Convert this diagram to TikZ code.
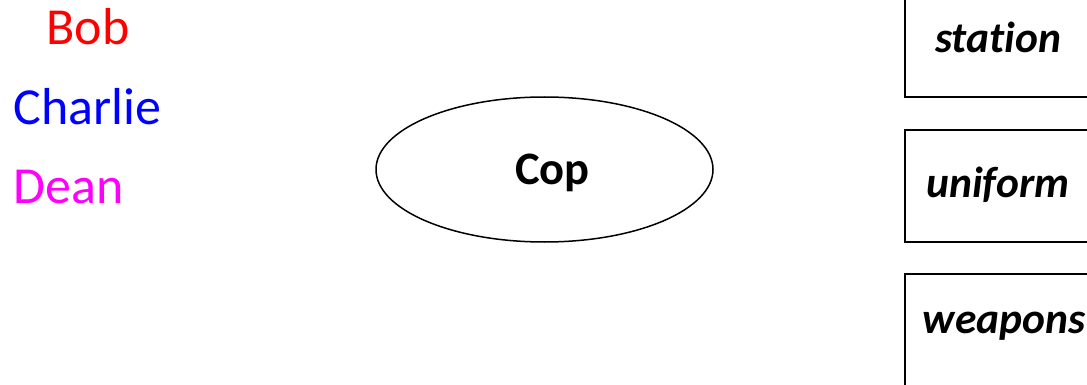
\documentclass[tikz,border=0pt]{standalone}
\usepackage{fontspec}
\setmainfont[Ligatures=NoCommon]{Carlito}
\usetikzlibrary{shapes.geometric}
\definecolor{pred}{RGB}{255,0,0}
\definecolor{pblue}{RGB}{0,0,255}
\definecolor{pmag}{RGB}{255,0,255}
\tikzset{
  person/.style={inner sep=0pt, anchor=base, font=\fontsize{52}{60}\selectfont},
  boxlabel/.style={inner sep=0pt, anchor=base, font=\fontsize{43.5}{50}\selectfont\bfseries\itshape},
  itembox/.style={draw, line width=2pt, rectangle, inner sep=0pt, minimum width=190pt, minimum height=112pt},
  classell/.style={draw, line width=1.5pt, ellipse, inner sep=0pt, minimum width=337pt, minimum height=145pt}
}
\begin{document}
\begin{tikzpicture}[x=1pt,y=-1pt]
\useasboundingbox (0,0) rectangle (1087,385);
\clip (0,0) rectangle (1087,385);
\node[person, text=pred] (bob) at (88,45) {Bob};
\node[person, text=pblue] (charlie) at (87.5,125) {Charlie};
\node[person, text=pmag] (dean) at (69,204) {Dean};
\node[classell] (cop) at (544.5,169.5) {};
\node[inner sep=0pt, anchor=base, font=\fontsize{46.5}{54}\selectfont\bfseries] (coplabel) at (552.5,185) {Cop};
\node[itembox] (b1) at (1000,41) {};
\node[itembox] (b2) at (1000,186) {};
\node[itembox] (b3) at (1000,330) {};
\node[boxlabel] (station) at (998,53) {station};
\node[boxlabel] (uniform) at (998,197) {uniform};
\node[boxlabel] (weapons) at (1004,333) {weapons};
\end{tikzpicture}
\end{document}
